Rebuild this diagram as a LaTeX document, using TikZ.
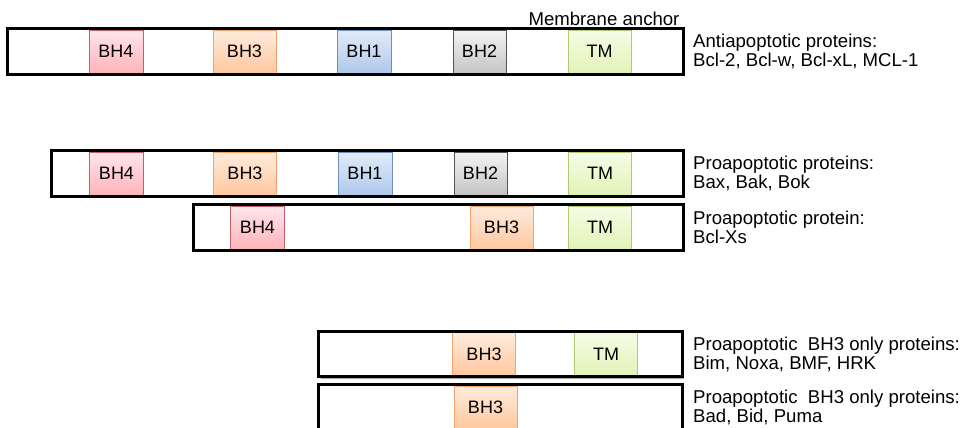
\documentclass[tikz,border=0pt]{standalone}
\usepackage{fontspec}
\setmainfont{Liberation Sans}
\usetikzlibrary{shadows}

\definecolor{bhfourline}{HTML}{C0606A}
\definecolor{bhfourtop}{HTML}{FFE6EA}
\definecolor{bhfourbot}{HTML}{FFB3BA}
\definecolor{bhthreeline}{HTML}{F2A46C}
\definecolor{bhthreetop}{HTML}{FFEBDC}
\definecolor{bhthreebot}{HTML}{FFC89E}
\definecolor{bhoneline}{HTML}{6C8EBF}
\definecolor{bhonetop}{HTML}{E2ECFA}
\definecolor{bhonebot}{HTML}{AFC8EC}
\definecolor{bhtwoline}{HTML}{555555}
\definecolor{bhtwotop}{HTML}{F4F4F4}
\definecolor{bhtwobot}{HTML}{C4C4C4}
\definecolor{tmline}{HTML}{AECB72}
\definecolor{tmtop}{HTML}{F6FCE6}
\definecolor{tmbot}{HTML}{E2F3B6}

\tikzset{
  txt/.style={font=\fontsize{18}{19}\selectfont},
  bigtxt/.style={font=\fontsize{18.6}{19}\selectfont},
  bar/.style={fill=white, minimum height=45pt, inner sep=0pt,
    drop shadow={shadow xshift=1.5pt, shadow yshift=-2pt, opacity=0.35, fill=black}},
  outline/.style={draw=black, line width=2.8pt},
  dom/.style={txt, line width=0.8pt, minimum height=43pt, inner sep=0pt},
  bhfour/.style={dom, draw=bhfourline, top color=bhfourtop, bottom color=bhfourbot, minimum width=54pt},
  bhthree/.style={dom, draw=bhthreeline, top color=bhthreetop, bottom color=bhthreebot, minimum width=63pt},
  bhone/.style={dom, draw=bhoneline, top color=bhonetop, bottom color=bhonebot, minimum width=54pt},
  bhtwo/.style={dom, draw=bhtwoline, top color=bhtwotop, bottom color=bhtwobot, minimum width=53pt},
  tm/.style={dom, draw=tmline, top color=tmtop, bottom color=tmbot, minimum width=63pt},
  lab/.style={bigtxt, anchor=west, align=left, inner sep=0pt}
}

\begin{document}
\begin{tikzpicture}[x=1pt, y=-1pt]
\useasboundingbox (0,0) rectangle (963,428);

\def\ya{51.5};
\def\yb{173.5};
\def\yc{227.5};
\def\yd{354};
\def\ye{407.5};
\def\xt{693};

% antiapoptotic
\node[bar, minimum width=675pt] (bar1) at (345.5,\ya) {};
\node[bhfour] (b1four) at (116,\ya) {BH4};
\node[bhthree] (b1three) at (244.5,\ya) {BH3};
\node[bhone] (b1one) at (364,\ya) {BH1};
\node[bhtwo] (b1two) at (479.5,\ya) {BH2};
\node[tm] (b1tm) at (599.5,\ya) {TM};
\draw[outline] (bar1.south west) rectangle (bar1.north east);
\node[bigtxt] (anchor) at (604,19) {Membrane anchor};
\node[lab] (l1) at (\xt,\ya) {Antiapoptotic proteins:\\Bcl-2, Bcl-w, Bcl-xL, MCL-1};

% proapoptotic
\node[bar, minimum width=631pt] (bar2) at (367.5,\yb) {};
\node[bhfour] (b2four) at (116.5,\yb) {BH4};
\node[bhthree] (b2three) at (245,\yb) {BH3};
\node[bhone] (b2one) at (365,\yb) {BH1};
\node[bhtwo] (b2two) at (480.5,\yb) {BH2};
\node[tm] (b2tm) at (600,\yb) {TM};
\draw[outline] (bar2.south west) rectangle (bar2.north east);
\node[lab] (l2) at (\xt,\yb) {Proapoptotic proteins:\\Bax, Bak, Bok};

\node[bar, minimum width=489pt] (bar3) at (438.5,\yc) {};
\node[bhfour] (b3four) at (257.5,\yc) {BH4};
\node[bhthree] (b3three) at (501.5,\yc) {BH3};
\node[tm] (b3tm) at (600,\yc) {TM};
\draw[outline] (bar3.south west) rectangle (bar3.north east);
\node[lab] (l3) at (\xt,\yc) {Proapoptotic protein:\\Bcl-Xs};

% BH3 only
\node[bar, minimum width=363pt] (bar4) at (500.5,\yd) {};
\node[bhthree] (b4three) at (484,\yd) {BH3};
\node[tm] (b4tm) at (606,\yd) {TM};
\draw[outline] (bar4.south west) rectangle (bar4.north east);
\node[lab] (l4) at (\xt,\yd) {Proapoptotic\ \ BH3 only proteins:\\Bim, Noxa, BMF, HRK};

\node[bar, minimum width=363pt] (bar5) at (500.5,\ye) {};
\node[bhthree] (b5three) at (485.5,\ye) {BH3};
\draw[outline] (bar5.south west) rectangle (bar5.north east);
\node[lab] (l5) at (\xt,\ye) {Proapoptotic\ \ BH3 only proteins:\\Bad, Bid, Puma};

\end{tikzpicture}
\end{document}
